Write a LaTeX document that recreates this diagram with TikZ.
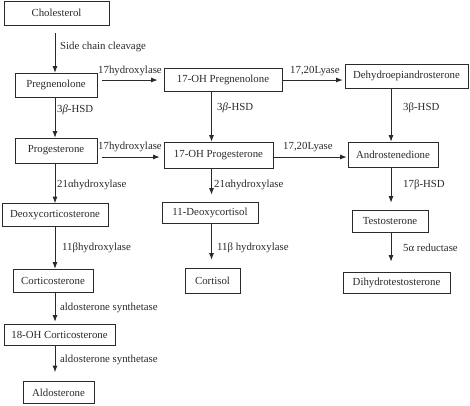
\documentclass[tikz,border=0pt]{standalone}
\usepackage{fontspec}
\setmainfont{Liberation Serif}
\usetikzlibrary{arrows.meta}
\definecolor{ink}{HTML}{2A2A2A}
\tikzset{
  txt/.style={font=\fontsize{10.8pt}{13pt}\selectfont, text=ink},
  stepbox/.style={txt, draw=ink, line width=0.8pt, inner sep=0pt, align=center},
  lbl/.style={txt, anchor=west, inner sep=0pt},
  arr/.style={draw=ink, line width=0.8pt, -{Latex[length=6.5pt,width=5pt]}}
}
\begin{document}
\begin{tikzpicture}[x=1pt,y=-1pt]
\useasboundingbox[fill=white] (0,0) rectangle (470,405);
% column and row guides
\coordinate (L) at (55,0);
\coordinate (M) at (211.5,0);
\coordinate (R) at (391,0);
\coordinate (r1) at (0,80);
\coordinate (r2) at (0,157);
% boxes
\node[stepbox, minimum width=105pt, minimum height=24pt] (chol) at (56.5,13) {Cholesterol};
\node[stepbox, minimum width=82pt, minimum height=24pt] (preg) at (56,85) {Pregnenolone};
\node[stepbox, minimum width=118pt, minimum height=23pt] (opreg) at (223,79.5) {17-OH Pregnenolone};
\node[stepbox, minimum width=123pt, minimum height=24pt] (dhea) at (406.5,76) {Dehydroepiandrosterone};
\node[stepbox, minimum width=82pt, minimum height=25pt] (prog) at (56,150.5) {Progesterone};
\node[stepbox, minimum width=109pt, minimum height=26pt] (oprog) at (218.5,155) {17-OH Progesterone};
\node[stepbox, minimum width=90pt, minimum height=25pt] (andro) at (393,154.5) {Androstenedione};
\node[stepbox, minimum width=106pt, minimum height=23pt] (doc) at (55,215) {Deoxycorticosterone};
\node[stepbox, minimum width=96pt, minimum height=21pt] (odc) at (210,212.5) {11-Deoxycortisol};
\node[stepbox, minimum width=76pt, minimum height=22pt] (testo) at (390,221) {Testosterone};
\node[stepbox, minimum width=80pt, minimum height=23pt] (cortic) at (53,280.5) {Corticosterone};
\node[stepbox, minimum width=55pt, minimum height=25pt] (cortisol) at (212.5,280.5) {Cortisol};
\node[stepbox, minimum width=107pt, minimum height=21pt] (dht) at (396.5,282.5) {Dihydrotestosterone};
\node[stepbox, minimum width=111pt, minimum height=21pt] (ohcort) at (59.5,334.5) {18-OH Corticosterone};
\node[stepbox, minimum width=71pt, minimum height=22pt] (aldo) at (58.5,392.5) {Aldosterone};
% vertical arrows, left column
\draw[arr, shorten <=8pt] (chol.south -| L) -- (preg.north -| L);
\draw[arr] (preg.south -| L) -- (prog.north -| L);
\draw[arr] (prog.south -| L) -- (doc.north -| L);
\draw[arr] (doc.south -| L) -- (cortic.north -| L);
\draw[arr, shorten >=2pt] (cortic.south -| L) -- (ohcort.north -| L);
\draw[arr, shorten >=9pt] (ohcort.south -| L) -- (aldo.north -| L);
% middle column
\draw[arr] (opreg.south -| M) -- (oprog.north -| M);
\draw[arr, shorten >=7pt] (oprog.south -| M) -- (odc.north -| M);
\draw[arr, shorten >=8pt] (odc.south -| M) -- (cortisol.north -| M);
% right column
\draw[arr] (dhea.south -| R) -- (andro.north -| R);
\draw[arr, shorten >=7pt] (andro.south -| R) -- (testo.north -| R);
\draw[arr, shorten >=10pt] (testo.south -| R) -- (dht.north -| R);
% horizontal arrows
\draw[arr, shorten <=5pt, shorten >=6pt] (preg.east |- r1) -- (opreg.west |- r1);
\draw[arr, shorten <=5pt, shorten >=4pt] (prog.east |- r2) -- (oprog.west |- r2);
\draw[arr, shorten >=2pt] (opreg.east |- r1) -- (dhea.west |- r1);
\draw[arr, shorten >=1pt] (oprog.east |- r2) -- (andro.west |- r2);
% labels
\node[lbl] (l1) at (60,47) {Side chain cleavage};
\node[lbl] (l2) at (98,71) {17hydroxylase};
\node[lbl] (l3) at (57,110) {3{\itshape β}-HSD};
\node[lbl] (l4) at (217,108) {3{\itshape β}-HSD};
\node[lbl] (l5) at (290,71) {17,20Lyase};
\node[lbl] (l6) at (403,108) {3β-HSD};
\node[lbl] (l7) at (98,147) {17hydroxylase};
\node[lbl] (l8) at (283,147) {17,20Lyase};
\node[lbl] (l9) at (57,185) {21αhydroxylase};
\node[lbl] (l10) at (214,185) {21αhydroxylase};
\node[lbl] (l11) at (403,185) {17β-HSD};
\node[lbl] (l12) at (62,248) {11βhydroxylase};
\node[lbl] (l13) at (217,248) {11β hydroxylase};
\node[lbl] (l14) at (403,248) {5α reductase};
\node[lbl] (l15) at (60,308) {aldosterone synthetase};
\node[lbl] (l16) at (60,360) {aldosterone synthetase};
\end{tikzpicture}
\end{document}
